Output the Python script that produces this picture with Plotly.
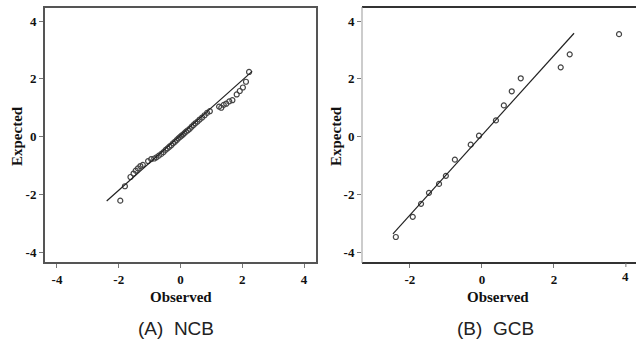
import plotly.graph_objects as go

# ---- data ----
ncb_obs = [-1.95, -1.80, -1.62, -1.52, -1.45, -1.38, -1.30, -1.22, -1.05, -0.95, -0.85, -0.78,
           -0.70, -0.62, -0.55, -0.48, -0.42, -0.36, -0.30, -0.24, -0.18, -0.12, -0.07, -0.02,
           0.03, 0.08, 0.13, 0.18, 0.24, 0.30, 0.36, 0.42, 0.48, 0.55, 0.62, 0.70, 0.78, 0.86,
           0.95, 1.25, 1.32, 1.40, 1.48, 1.58, 1.68, 1.82, 1.92, 2.02, 2.12, 2.22]
ncb_exp = [-2.22, -1.72, -1.40, -1.28, -1.18, -1.10, -1.02, -0.98, -0.85, -0.78, -0.76, -0.72,
           -0.66, -0.60, -0.54, -0.46, -0.41, -0.35, -0.30, -0.23, -0.18, -0.12, -0.06, -0.02,
           0.03, 0.07, 0.12, 0.17, 0.22, 0.27, 0.34, 0.40, 0.46, 0.52, 0.59, 0.66, 0.74, 0.82,
           0.88, 1.04, 1.00, 1.10, 1.14, 1.22, 1.26, 1.46, 1.58, 1.70, 1.90, 2.24]
ncb_line_x = [-2.39, 2.32]
ncb_line_y = [-2.23, 2.26]

gcb_obs = [-2.39, -1.92, -1.69, -1.47, -1.19, -1.00, -0.75, -0.31, -0.08, 0.39, 0.61, 0.83,
           1.08, 2.19, 2.44, 3.81]
gcb_exp = [-3.48, -2.78, -2.33, -1.95, -1.64, -1.36, -0.80, -0.28, 0.03, 0.56, 1.08, 1.57,
           2.02, 2.40, 2.85, 3.55]
gcb_line_x = [-2.47, 2.56]
gcb_line_y = [-3.37, 3.58]

ticks_a = [-4, -2, 0, 2, 4]
ticks_b = [-2, 0, 2]
tick_text_a = ["-4", "-2", "0", "2", "4"]
tick_text_b = ["-2", "0", "2"]
edge_tick_b = 4
edge_tick_text_b = "4"
axis_x_title = "Observed"
axis_y_title = "Expected"
captions = ["(A)  NCB", "(B)  GCB"]

W, H = 636, 356
def px(x): return x / W
def py(y): return 1 - y / H

dom_a = [px(44), px(317)]
dom_b = [px(362), px(632)]
dom_y = [py(263), py(7)]

fig = go.Figure()
mk = dict(symbol="circle-open", size=5, color="#444", line=dict(width=1.2, color="#444"))
fig.add_trace(go.Scatter(x=ncb_obs, y=ncb_exp, mode="markers", marker=mk, xaxis="x", yaxis="y"))
fig.add_trace(go.Scatter(x=ncb_line_x, y=ncb_line_y, mode="lines",
                         line=dict(color="#222", width=1.2), xaxis="x", yaxis="y"))
fig.add_trace(go.Scatter(x=gcb_obs, y=gcb_exp, mode="markers", marker=mk, xaxis="x2", yaxis="y2",
                         cliponaxis=False))
fig.add_trace(go.Scatter(x=gcb_line_x, y=gcb_line_y, mode="lines",
                         line=dict(color="#222", width=1.2), xaxis="x2", yaxis="y2"))

tickfont = dict(family="Liberation Serif", size=13, color="#111", weight="bold")
common = dict(showgrid=False, zeroline=False, ticks="outside", ticklen=4, tickwidth=1,
              tickcolor="#777", tickfont=tickfont, showline=False, fixedrange=True,
              automargin=False, ticklabeloverflow="allow")

fig.update_layout(
    width=W, height=H, margin=dict(l=0, r=0, t=0, b=0),
    paper_bgcolor="white", plot_bgcolor="white", showlegend=False,
    xaxis=dict(domain=dom_a, range=[-4.42, 4.42], tickvals=ticks_a, ticktext=tick_text_a,
               anchor="y", **common),
    yaxis=dict(domain=dom_y, range=[-4.38, 4.49], tickvals=ticks_a, ticktext=tick_text_a,
               anchor="x", **common),
    xaxis2=dict(domain=dom_b, range=[-3.33, 4.17], tickvals=ticks_b, ticktext=tick_text_b,
                anchor="y2", **common),
    yaxis2=dict(domain=dom_y, range=[-4.38, 4.49], tickvals=ticks_a, ticktext=tick_text_a,
                anchor="x2", **common),
)

# frames
shapes = [
    dict(type="rect", xref="paper", yref="paper", x0=dom_a[0], x1=dom_a[1], y0=dom_y[0], y1=dom_y[1],
         line=dict(color="#555", width=2)),
    dict(type="line", xref="paper", yref="paper", x0=dom_b[0], x1=1.0, y0=dom_y[1], y1=dom_y[1],
         line=dict(color="#333", width=2)),
    dict(type="line", xref="paper", yref="paper", x0=dom_b[0], x1=1.0, y0=dom_y[0], y1=dom_y[0],
         line=dict(color="#333", width=2)),
    dict(type="line", xref="paper", yref="paper", x0=dom_b[0], x1=dom_b[0], y0=dom_y[0], y1=dom_y[1],
         line=dict(color="#999", width=1)),
    # tick mark for the edge tick of panel B
    dict(type="line", xref="x2", yref="paper", x0=edge_tick_b, x1=edge_tick_b,
         y0=dom_y[0] - 4 / H, y1=dom_y[0], line=dict(color="#777", width=1)),
]
fig.update_layout(shapes=shapes)

titlefont = dict(family="Liberation Serif", size=15, color="#111")
capfont = dict(family="Liberation Sans", size=19, color="#222")
ann = [
    dict(x=px(181), y=py(297), text="<b>%s</b>" % axis_x_title, font=titlefont),
    dict(x=px(498), y=py(297), text="<b>%s</b>" % axis_x_title, font=titlefont),
    dict(x=px(17), y=py(136), text="<b>%s</b>" % axis_y_title, font=titlefont, textangle=-90),
    dict(x=px(336), y=py(136), text="<b>%s</b>" % axis_y_title, font=titlefont, textangle=-90),
    dict(x=px(176), y=py(328), text=captions[0], font=capfont),
    dict(x=px(495), y=py(328), text=captions[1], font=capfont),
]
for a in ann:
    a.update(xref="paper", yref="paper", showarrow=False, xanchor="center", yanchor="middle")
ann.append(dict(x=edge_tick_b, xref="x2", y=py(276), yref="paper", text="<b>%s</b>" % edge_tick_text_b,
                font=dict(family="Liberation Serif", size=13, color="#111"), showarrow=False,
                xanchor="center", yanchor="middle"))
fig.update_layout(annotations=ann)

fig.write_html("out.html", config={"displayModeBar": False},
               post_script="document.body.style.margin='0px';")
